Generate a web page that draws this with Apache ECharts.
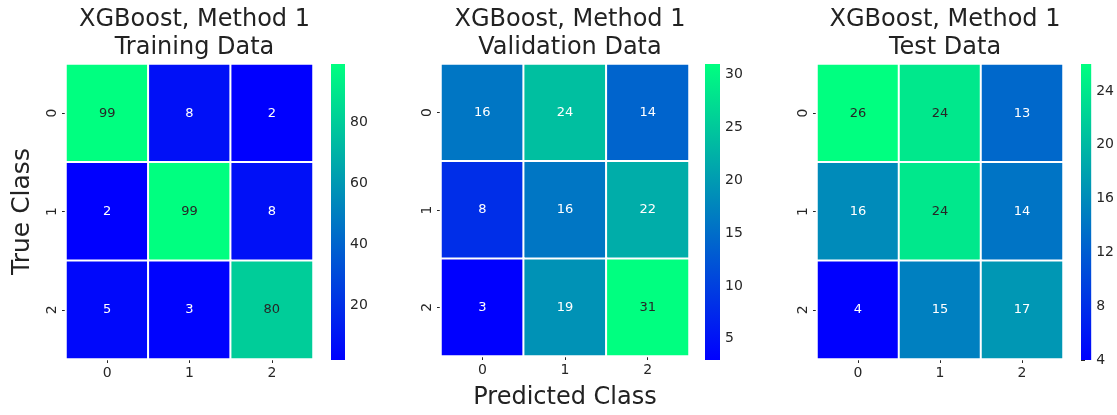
<!DOCTYPE html>
<html>
<head>
<meta charset="utf-8">
<script src="https://cdn.jsdelivr.net/npm/echarts@6/dist/echarts.min.js"></script>
<style>html,body{margin:0;padding:0;background:#fff;}#c{width:1117px;height:415px;}</style>
</head>
<body>
<div id="c"></div>
<script>
const classes = ['0', '1', '2'];
const trainData = [[99, 8, 2], [2, 99, 8], [5, 3, 80]];
const valData = [[16, 24, 14], [8, 16, 22], [3, 19, 31]];
const testData = [[26, 24, 13], [16, 24, 14], [4, 15, 17]];
const trainTicks = [20, 40, 60, 80];
const valTicks = [5, 10, 15, 20, 25, 30];
const testTicks = [4, 8, 12, 16, 20, 24];
const titles = ['XGBoost, Method 1\nTraining Data', 'XGBoost, Method 1\nValidation Data', 'XGBoost, Method 1\nTest Data'];

const FONT = 'DejaVu Sans';
const DARK = '#262626';
const C0 = [0, 0, 255], C1 = [0, 255, 128];

function lin(c) { c /= 255; return c <= 0.03928 ? c / 12.92 : Math.pow((c + 0.055) / 1.055, 2.4); }
function textColor(v, lo, hi) {
  const t = (v - lo) / (hi - lo);
  const rgb = C0.map((a, i) => a + (C1[i] - a) * t);
  const L = 0.2126 * lin(rgb[0]) + 0.7152 * lin(rgb[1]) + 0.0722 * lin(rgb[2]);
  return L > 0.408 ? DARK : '#ffffff';
}

const panels = [
  { data: trainData, ticks: trainTicks, left: 66, width: 247, cbLeft: 331, cbWidth: 14 },
  { data: valData, ticks: valTicks, left: 441, width: 248, cbLeft: 705, cbWidth: 15 },
  { data: testData, ticks: testTicks, left: 817, width: 246, cbLeft: 1081, cbWidth: 14 }
];
const TOP = 64, H = 295;

const option = { animation: false, backgroundColor: '#fff', title: [], grid: [], xAxis: [], yAxis: [], series: [], visualMap: [] };

panels.forEach((p, k) => {
  const flat = p.data.flat();
  const lo = Math.min(...flat), hi = Math.max(...flat);
  option.title.push({
    text: titles[k], left: p.left + p.width / 2, top: 1, textAlign: 'center',
    textStyle: { fontFamily: FONT, fontSize: 24, fontWeight: 'normal', color: '#222', lineHeight: 28 }
  });
  // heatmap grid
  option.grid.push({ left: p.left, top: TOP, width: p.width, height: H });
  option.xAxis.push({
    type: 'category', data: classes, gridIndex: 2 * k,
    axisLine: { show: false }, splitLine: { show: false },
    axisTick: { show: true, alignWithLabel: true, length: 4, lineStyle: { color: DARK } },
    axisLabel: { fontFamily: FONT, fontSize: 14, color: DARK, margin: 7 },
    name: k === 1 ? 'Predicted Class' : '', nameLocation: 'middle', nameGap: 30,
    nameTextStyle: { fontFamily: FONT, fontSize: 24, color: '#222', verticalAlign: 'top' }
  });
  option.yAxis.push({
    type: 'category', data: classes, inverse: true, gridIndex: 2 * k,
    axisLine: { show: false }, splitLine: { show: false },
    axisTick: { show: true, alignWithLabel: true, length: 4, lineStyle: { color: DARK } },
    axisLabel: { fontFamily: FONT, fontSize: 14, color: DARK, rotate: 90, margin: 7 },
    name: k === 0 ? 'True Class' : '', nameLocation: 'middle', nameGap: 31,
    nameTextStyle: { fontFamily: FONT, fontSize: 25, color: '#222' }
  });
  const items = [];
  p.data.forEach((row, r) => row.forEach((v, c) => {
    items.push({ value: [c, r, v], label: { color: textColor(v, lo, hi) } });
  }));
  const si = option.series.length;
  option.series.push({
    type: 'heatmap', xAxisIndex: 2 * k, yAxisIndex: 2 * k, data: items,
    itemStyle: { borderColor: '#ffffff', borderWidth: 2 },
    label: { show: true, fontFamily: FONT, fontSize: 13, formatter: (d) => d.value[2] },
    emphasis: { disabled: true }
  });
  option.visualMap.push({
    show: false, type: 'continuous', seriesIndex: si, dimension: 2, min: lo, max: hi,
    inRange: { color: ['#0000ff', '#00ff80'] }
  });
  // colorbar grid
  option.grid.push({ left: p.cbLeft, top: TOP, width: p.cbWidth, height: H + 1 });
  option.xAxis.push({ type: 'value', gridIndex: 2 * k + 1, min: 0, max: 1, show: false });
  option.yAxis.push({
    type: 'value', gridIndex: 2 * k + 1, min: lo, max: hi, position: 'right',
    axisLine: { show: false }, splitLine: { show: false },
    axisTick: { show: true, length: 4, customValues: p.ticks, lineStyle: { color: DARK } },
    axisLabel: { fontFamily: FONT, fontSize: 14, color: DARK, margin: 5, customValues: p.ticks }
  });
  option.series.push({
    type: 'custom', xAxisIndex: 2 * k + 1, yAxisIndex: 2 * k + 1, silent: true,
    data: [[0, lo, hi]],
    renderItem: function (params, api) {
      const a = api.coord([0, api.value(1)]);
      const b = api.coord([1, api.value(2)]);
      return {
        type: 'rect',
        shape: { x: a[0], y: b[1], width: b[0] - a[0], height: a[1] - b[1] },
        style: {
          fill: new echarts.graphic.LinearGradient(0, 1, 0, 0, [
            { offset: 0, color: '#0000ff' }, { offset: 1, color: '#00ff80' }
          ])
        }
      };
    }
  });
});

const chart = echarts.init(document.getElementById('c'), null, { renderer: 'canvas' });
chart.setOption(option);
</script>
</body>
</html>
